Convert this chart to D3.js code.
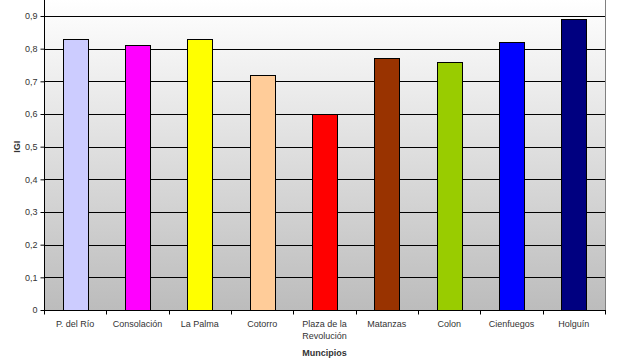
<!DOCTYPE html>
<html>
<head>
<meta charset="utf-8">
<script src="https://cdn.jsdelivr.net/npm/d3@7"></script>
<style>
  body { margin: 0; background: #fff; }
  svg { display: block; }
</style>
</head>
<body>
<div id="chart"></div>
<script>
const municipios = ["P. del Río", "Consolación", "La Palma", "Cotorro", "Plaza de la Revolución",
  "Matanzas", "Colon", "Cienfuegos", "Holguín"];
const igi = [0.83, 0.81, 0.83, 0.72, 0.60, 0.77, 0.76, 0.82, 0.89];
const colores = ["#ccccff", "#ff00ff", "#ffff00", "#ffcc99", "#ff0000",
  "#993300", "#99cc00", "#0000ff", "#000080"];
const yTicks = [0, 0.1, 0.2, 0.3, 0.4, 0.5, 0.6, 0.7, 0.8, 0.9];

const width = 617, height = 364;
const left = 44, right = 605, bottom = 310;

const svg = d3.select("#chart").append("svg")
  .attr("width", width)
  .attr("height", height);

const x = d3.scaleBand()
  .domain(municipios)
  .range([left, right])
  .paddingInner(0.6)
  .paddingOuter(0.3);

const y = d3.scaleLinear()
  .domain([0, 0.9])
  .range([bottom, 16]);

// fondo degradado del área de trazado
const grad = svg.append("defs").append("linearGradient")
  .attr("id", "bg")
  .attr("x1", 0).attr("y1", 0).attr("x2", 0).attr("y2", 1);
grad.append("stop").attr("offset", "0%").attr("stop-color", "#ffffff");
grad.append("stop").attr("offset", "100%").attr("stop-color", "#bcbcbc");

svg.append("rect")
  .attr("x", left).attr("y", 0)
  .attr("width", right - left).attr("height", bottom)
  .attr("fill", "url(#bg)");

// borde derecho gris
svg.append("line")
  .attr("x1", right + 0.5).attr("x2", right + 0.5)
  .attr("y1", 0).attr("y2", bottom)
  .attr("stroke", "#808080");

// líneas de cuadrícula
svg.append("g")
  .selectAll("line")
  .data(yTicks.filter(d => d > 0))
  .join("line")
  .attr("x1", left).attr("x2", right)
  .attr("y1", d => Math.round(y(d)) + 0.5)
  .attr("y2", d => Math.round(y(d)) + 0.5)
  .attr("stroke", "#000");

// barras
svg.append("g")
  .selectAll("rect")
  .data(municipios)
  .join("rect")
  .attr("x", d => Math.round(x(d)) + 0.5)
  .attr("y", (d, i) => Math.round(y(igi[i])) + 0.5)
  .attr("width", Math.round(x.bandwidth()))
  .attr("height", (d, i) => bottom - Math.round(y(igi[i])))
  .attr("fill", (d, i) => colores[i])
  .attr("stroke", "#000")
  .attr("stroke-width", 1);

// eje Y
const yAxis = svg.append("g")
  .attr("transform", `translate(${left + 0.5},0)`)
  .call(d3.axisLeft(y).tickValues(yTicks).tickSize(4).tickSizeOuter(0)
    .tickFormat(d => d === 0 ? "0" : d3.format(".1f")(d).replace(".", ",")));
yAxis.select(".domain").attr("d", `M0,0V${bottom}`).attr("stroke", "#000");
yAxis.selectAll(".tick line").attr("y1", 0).attr("y2", 0);
yAxis.selectAll(".tick text")
  .attr("font-family", "Liberation Sans, Arial, sans-serif")
  .attr("font-size", 9)
  .attr("fill", "#333")
  .attr("x", -7);

// eje X
const xAxis = svg.append("g")
  .attr("transform", `translate(0,${bottom + 0.5})`);
xAxis.append("line")
  .attr("x1", left).attr("x2", right + 1)
  .attr("stroke", "#000");
xAxis.selectAll(".tk")
  .data(municipios.concat([null]))
  .join("line")
  .attr("class", "tk")
  .attr("x1", (d, i) => Math.round(left + i * x.step()) + 0.5)
  .attr("x2", (d, i) => Math.round(left + i * x.step()) + 0.5)
  .attr("y1", 0).attr("y2", 4)
  .attr("stroke", "#000");

const labels = xAxis.selectAll(".lbl")
  .data(municipios)
  .join("text")
  .attr("class", "lbl")
  .attr("x", d => x(d) + x.bandwidth() / 2)
  .attr("y", 16)
  .attr("text-anchor", "middle")
  .attr("font-family", "Liberation Sans, Arial, sans-serif")
  .attr("font-size", 9)
  .attr("fill", "#333");
labels.each(function(d) {
  const t = d3.select(this);
  const parts = d === "Plaza de la Revolución" ? ["Plaza de la", "Revolución"] : [d];
  parts.forEach((p, k) => {
    t.append("tspan")
      .attr("x", x(d) + x.bandwidth() / 2)
      .attr("dy", k === 0 ? 0 : 12)
      .text(p);
  });
});

// títulos de ejes
svg.append("text")
  .attr("x", (left + right) / 2)
  .attr("y", 356)
  .attr("text-anchor", "middle")
  .attr("font-family", "Liberation Sans, Arial, sans-serif")
  .attr("font-size", 9)
  .attr("font-weight", "bold")
  .attr("fill", "#333")
  .text("Muncipios");

svg.append("text")
  .attr("transform", `translate(20,${y(0.5)}) rotate(-90)`)
  .attr("text-anchor", "middle")
  .attr("font-family", "Liberation Sans, Arial, sans-serif")
  .attr("font-size", 9)
  .attr("font-weight", "bold")
  .attr("fill", "#333")
  .text("IGI");
</script>
</body>
</html>
